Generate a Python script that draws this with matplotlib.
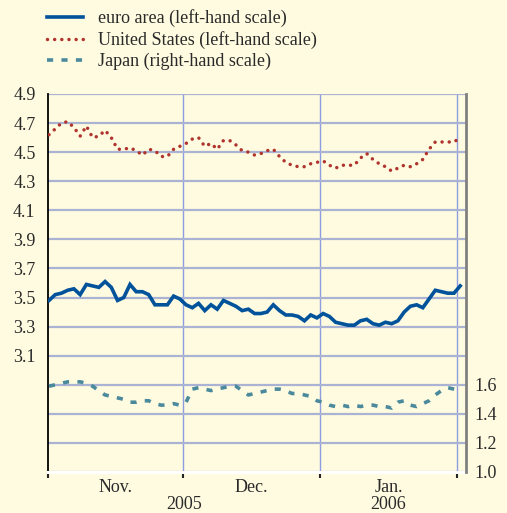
import matplotlib
matplotlib.use('Agg')
import matplotlib.pyplot as plt
import numpy as np
from matplotlib.ticker import FixedLocator, FuncFormatter

plt.rcParams['font.family'] = ['Liberation Serif', 'DejaVu Serif']

# daily observations, 1 Nov 2005 - early Feb 2006 (business days)
euro_area = [3.48, 3.52, 3.53, 3.55, 3.56, 3.52, 3.59, 3.58, 3.57, 3.61,
             3.57, 3.48, 3.50, 3.59, 3.54, 3.54, 3.52, 3.45, 3.45, 3.45,
             3.51, 3.49, 3.45, 3.43, 3.46, 3.41, 3.45, 3.42, 3.48, 3.46,
             3.44, 3.41, 3.42, 3.39, 3.39, 3.40, 3.45, 3.41, 3.38, 3.38,
             3.37, 3.34, 3.38, 3.36, 3.39, 3.37, 3.33, 3.32, 3.31, 3.31,
             3.34, 3.35, 3.32, 3.31, 3.33, 3.32, 3.34, 3.40, 3.44, 3.45,
             3.43, 3.49, 3.55, 3.54, 3.53, 3.53, 3.58]
united_states = [4.62, 4.66, 4.70, 4.71, 4.67, 4.61, 4.68, 4.60, 4.61, 4.65,
                 4.60, 4.52, 4.52, 4.53, 4.51, 4.48, 4.52, 4.51, 4.47, 4.47,
                 4.52, 4.54, 4.56, 4.59, 4.60, 4.54, 4.56, 4.52, 4.58, 4.58,
                 4.55, 4.51, 4.50, 4.48, 4.49, 4.51, 4.52, 4.47, 4.43, 4.41,
                 4.40, 4.40, 4.42, 4.43, 4.44, 4.41, 4.39, 4.41, 4.41, 4.41,
                 4.46, 4.49, 4.45, 4.42, 4.40, 4.37, 4.39, 4.41, 4.40, 4.42,
                 4.45, 4.52, 4.57, 4.57, 4.57, 4.57, 4.60]
japan = [1.59, 1.60, 1.61, 1.62, 1.62, 1.62, 1.61, 1.59, 1.56, 1.53,
         1.52, 1.51, 1.50, 1.48, 1.48, 1.49, 1.49, 1.47, 1.46, 1.46,
         1.47, 1.46, 1.48, 1.57, 1.58, 1.57, 1.56, 1.57, 1.58, 1.59,
         1.59, 1.56, 1.53, 1.54, 1.55, 1.56, 1.57, 1.57, 1.56, 1.54,
         1.54, 1.53, 1.52, 1.49, 1.48, 1.46, 1.45, 1.46, 1.45, 1.46,
         1.45, 1.46, 1.46, 1.45, 1.45, 1.44, 1.48, 1.49, 1.46, 1.45,
         1.47, 1.49, 1.53, 1.56, 1.58, 1.57, 1.56]

months = ['Nov.', 'Dec.', 'Jan.']
month_edges = [-0.16, 21.5, 43.5, 65.5]   # index positions of month starts
years = ['2005', '2006']

left_ticks = np.round(np.arange(2.3, 4.95, 0.2), 1)
right_ticks = [1.0, 1.2, 1.4, 1.6]

bg = '#fffbe0'
txt = '#2a2a2a'
fs = 13
x = np.arange(len(euro_area))

fig = plt.figure(figsize=(5.07, 5.13), dpi=100, facecolor=bg)
ax = fig.add_axes([48 / 507, 1 - 472 / 513, 418 / 507, 378 / 513])
ax.set_facecolor(bg)
ax2 = ax.twinx()

l1, = ax.plot(x, euro_area, color='#00529b', lw=2.6, solid_joinstyle='miter', zorder=4)
l2, = ax.plot(x, united_states, color='#b0342e', lw=2.5,
              linestyle=(0, (0.01, 2.05)), dash_capstyle='round', zorder=4)
l3, = ax2.plot(x, japan, color='#4b8a9c', lw=2.6,
               linestyle=(0, (1.7, 2.3)), dash_capstyle='butt', zorder=4)

ax.set_xlim(-0.16, 66.93)
ax.set_ylim(2.3, 4.9)
ax2.set_ylim(1.0, 3.6)

# horizontal grid, labels only on the upper part (left) / lower part (right)
ax.yaxis.set_major_locator(FixedLocator(left_ticks))
ax.yaxis.set_major_formatter(FuncFormatter(lambda v, p: '%.1f' % v if v > 3.0 else ''))
ax.grid(axis='y', color='#aab3d3', lw=1.6, zorder=1)
ax.tick_params(axis='y', length=0, pad=9, labelsize=fs, labelcolor=txt)

ax2.set_yticks(right_ticks)
ax2.set_yticklabels(['%.1f' % v for v in right_ticks])
ax2.tick_params(axis='y', length=0, pad=6, labelsize=fs, labelcolor=txt)

# month boundaries
ax.set_xticks(month_edges)
ax.set_xticklabels([])
for e in month_edges[1:]:
    ax.axvline(e, color='#8d9ee0', lw=1.0, zorder=1)
ax.tick_params(axis='x', which='major', length=4, width=1.5, color='#222222', direction='out')
centers = [(month_edges[i] + month_edges[i + 1]) / 2 for i in range(3)]
ax.set_xticks(centers, minor=True)
ax.set_xticklabels(months, minor=True)
ax.tick_params(axis='x', which='minor', length=0, pad=5, labelsize=fs, labelcolor=txt)

tr = ax.get_xaxis_transform()
ax.text((month_edges[0] + month_edges[2]) / 2, -0.086, years[0], transform=tr,
        ha='center', va='center', fontsize=fs, color=txt)
ax.text(centers[2], -0.086, years[1], transform=tr,
        ha='center', va='center', fontsize=fs, color=txt)

# spines
for s in ['top', 'right']:
    ax.spines[s].set_visible(False)
for s in ['top', 'left', 'bottom']:
    ax2.spines[s].set_visible(False)
ax.spines['left'].set_color('black')
ax.spines['left'].set_linewidth(1.3)
ax.spines['bottom'].set_color('white')
ax.spines['bottom'].set_linewidth(2.2)
ax2.spines['right'].set_color('#808080')
ax2.spines['right'].set_linewidth(2)

leg = fig.legend([l1, l2, l3],
                 ['euro area (left-hand scale)', 'United States (left-hand scale)',
                  'Japan (right-hand scale)'],
                 loc='upper left', bbox_to_anchor=(40 / 507, 1 - 2 / 513),
                 frameon=False, fontsize=fs, handlelength=2.0, handletextpad=0.82,
                 labelspacing=0.22, borderaxespad=0)
for t in leg.get_texts():
    t.set_color(txt)

fig.savefig('out.png', dpi=100, facecolor=bg)
